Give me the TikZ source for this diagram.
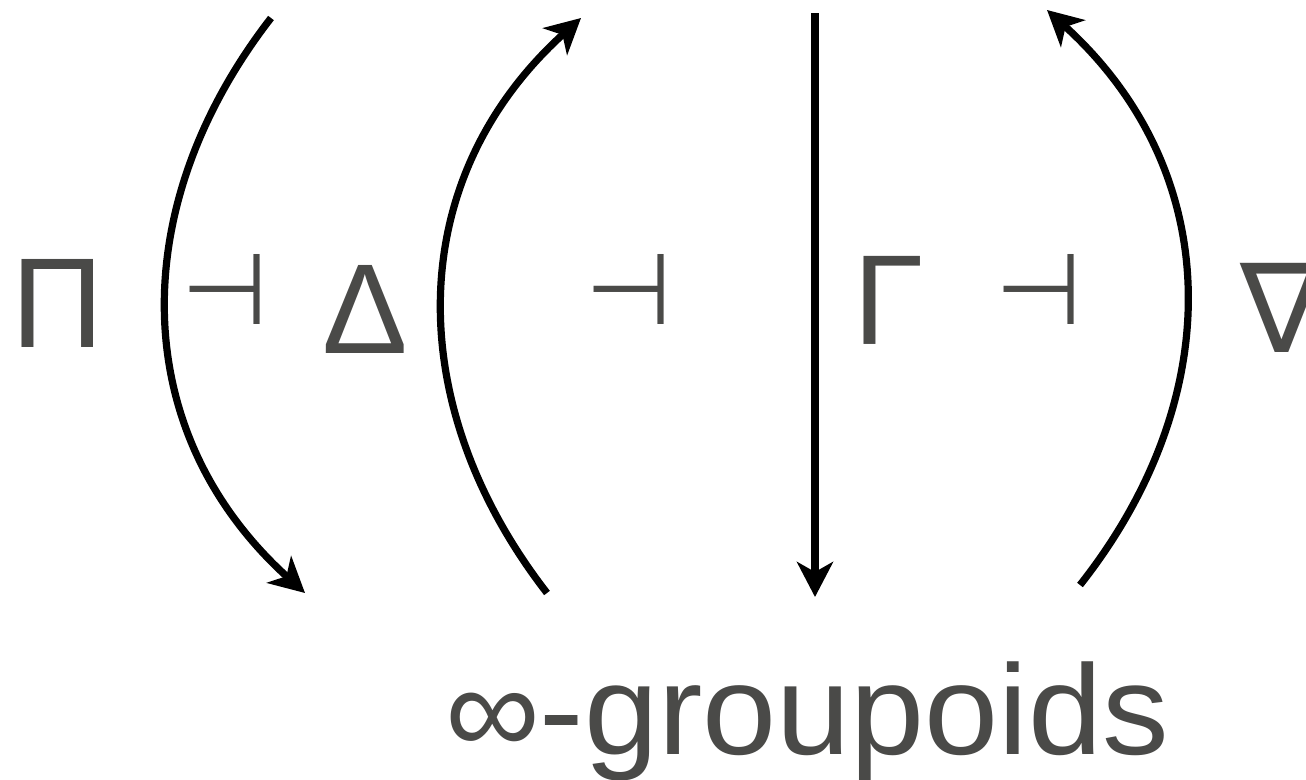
\documentclass[tikz,border=0pt]{standalone}
\usepackage{fontspec}
\setmainfont{Liberation Sans}
\newfontfamily\widefont[FakeStretch=1.04]{Liberation Sans}
\newfontfamily\symfont{DejaVu Sans}
\usetikzlibrary{arrows.meta}
\definecolor{txt}{RGB}{74,74,72}
\begin{document}
\begin{tikzpicture}[x=1pt,y=-1pt,
  arr/.style={line width=7.2pt,-{Stealth[length=35pt,width=36pt,inset=10pt]}},
  lab/.style={text=txt,font=\fontsize{128}{128}\selectfont,inner sep=0pt},
  adj/.style={text=txt,font=\symfont\fontsize{100}{100}\selectfont,inner sep=0pt}]
\clip (0,0) rectangle (1306,779);
% labels
\node[lab] (pi) at (58,303.5) {Π};
\node[lab] (delta) at (365.5,309) {Δ};
\node[lab] (gamma) at (889,300.5) {Γ};
\node[lab,font=\symfont\fontsize{124}{124}\selectfont] (nabla) at (1282,308) {∇};
\node[adj] (adj1) at (225.5,289) {⊣};
\node[adj] (adj2) at (629,289) {⊣};
\node[adj] (adj3) at (1039,289) {⊣};
\node[lab,font=\widefont\fontsize{128}{128}\selectfont,anchor=base] (grp) at (807,754) {∞-groupoids};
% arrows
\coordinate (a1s) at (271,18);  \coordinate (a1e) at (305,593);
\coordinate (a2s) at (547,593); \coordinate (a2e) at (581,18);
\coordinate (a3s) at (815,13);  \coordinate (a3e) at (815,597);
\coordinate (a4s) at (1080,585); \coordinate (a4e) at (1047,10);
\draw[arr] (a1s) .. controls (126,205) and (126,431) .. (a1e);
\draw[arr] (a2s) .. controls (402,406) and (402,180) .. (a2e);
\draw[arr] (a3s) -- (a3e);
\draw[arr] (a4s) .. controls (1227,399) and (1227,173) .. (a4e);
\end{tikzpicture}
\end{document}
